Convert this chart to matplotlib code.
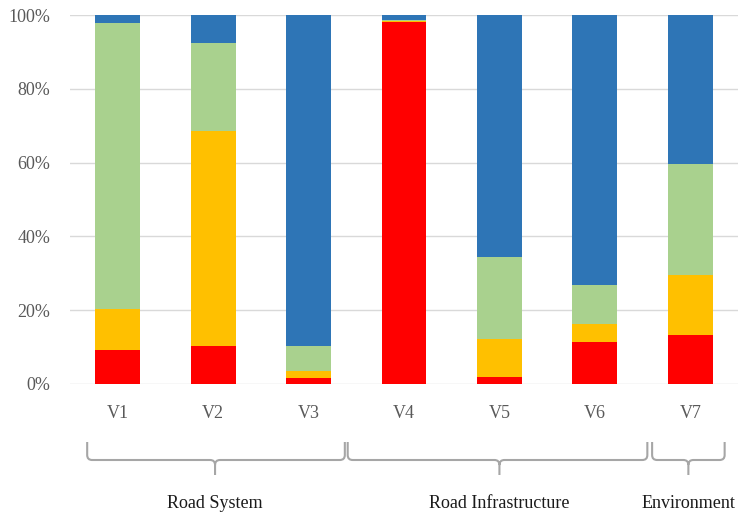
import matplotlib
matplotlib.use("Agg")
import matplotlib.pyplot as plt
from matplotlib.path import Path
from matplotlib.patches import PathPatch
import matplotlib.transforms as mtransforms
import numpy as np

categories = ["V1", "V2", "V3", "V4", "V5", "V6", "V7"]
red_vals    = [9.1, 10.2, 1.6, 98.2, 1.8, 11.5, 13.3]
orange_vals = [11.2, 58.4, 2.0, 0.3, 10.5, 4.8, 16.2]
green_vals  = [77.5, 23.7, 6.8, 0.1, 22.1, 10.5, 30.1]
blue_vals   = [2.2, 7.7, 89.6, 1.4, 65.6, 73.2, 40.4]
y_ticks = [0, 20, 40, 60, 80, 100]
y_tick_labels = ["0%", "20%", "40%", "60%", "80%", "100%"]
groups = ["Road System", "Road Infrastructure", "Environment"]
group_spans = [(-0.32, 2.38, 1.02), (2.41, 5.55, 4.0), (5.60, 6.36, 5.98)]

colors = ["#FF0000", "#FFC000", "#A9D18E", "#2E75B6"]
series = [red_vals, orange_vals, green_vals, blue_vals]

plt.rcParams['font.family'] = ['Liberation Serif', 'DejaVu Serif']

W, H = 738, 515
fig = plt.figure(figsize=(W / 100, H / 100), dpi=100)
ax = fig.add_axes([70 / W, 1 - 384 / H, (738 - 70) / W, (384 - 15) / H])

x = np.arange(len(categories))
bottom = np.zeros(len(categories))
for vals, c in zip(series, colors):
    v = np.array(vals, dtype=float)
    ax.bar(x, v, bottom=bottom, width=0.47, color=c, linewidth=0, zorder=3)
    bottom += v

ax.set_xlim(-0.5, 6.5)
ax.set_ylim(0, 100)
ax.set_yticks(y_ticks)
ax.set_yticklabels(y_tick_labels)
ax.set_xticks(x)
ax.set_xticklabels(categories)
ax.yaxis.grid(True, color="#D9D9D9", linewidth=1.0, zorder=0)
ax.set_axisbelow(True)
for s in ax.spines.values():
    s.set_visible(False)
ax.tick_params(axis='both', length=0, labelsize=13, labelcolor="#595959")
ax.tick_params(axis='y', pad=14)
ax.tick_params(axis='x', pad=15)

# braces: x in data coords, y in figure pixels (from top)
trans = mtransforms.blended_transform_factory(ax.transData, fig.transFigure)
ppu = (738 - 70) / 7.0  # pixels per data unit

def fy(py):
    return 1 - py / H

def brace(x0, x1, xc):
    ytop, ymid, ytip = 442, 460, 475
    r = 5 / ppu
    verts = [
        (x0, fy(ytop)),
        (x0, fy(ymid - 5)),
        (x0, fy(ymid)), (x0 + r, fy(ymid)),
        (xc - r, fy(ymid)),
        (xc, fy(ymid)), (xc, fy(ymid + 5)),
        (xc, fy(ytip)),
        (xc, fy(ymid + 5)),
        (xc, fy(ymid)), (xc + r, fy(ymid)),
        (x1 - r, fy(ymid)),
        (x1, fy(ymid)), (x1, fy(ymid - 5)),
        (x1, fy(ytop)),
    ]
    codes = [Path.MOVETO, Path.LINETO, Path.CURVE3, Path.CURVE3, Path.LINETO,
             Path.CURVE3, Path.CURVE3, Path.LINETO, Path.MOVETO,
             Path.CURVE3, Path.CURVE3, Path.LINETO,
             Path.CURVE3, Path.CURVE3, Path.LINETO]
    p = PathPatch(Path(verts, codes), transform=trans, fill=False,
                  edgecolor="#A6A6A6", linewidth=1.5, clip_on=False)
    fig.add_artist(p)

for (x0, x1, xc), g in zip(group_spans, groups):
    brace(x0, x1, xc)
    ax.text(xc, fy(503), g, transform=trans, ha='center', va='center',
            fontsize=13, color="#1A1A1A", clip_on=False)

fig.savefig("out.png", dpi=100)
